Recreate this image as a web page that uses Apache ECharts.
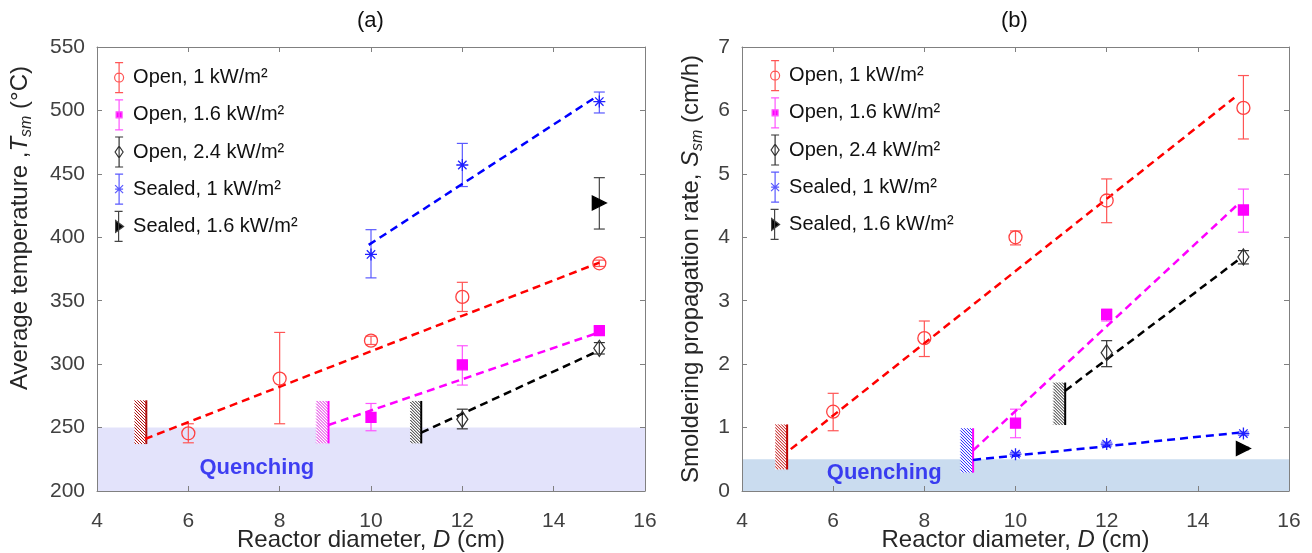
<!DOCTYPE html>
<html>
<head>
<meta charset="utf-8">
<script src="https://cdn.jsdelivr.net/npm/echarts@6/dist/echarts.min.js"></script>
<style>
  html, body { margin: 0; padding: 0; background: #fff; }
  #chart { width: 1312px; height: 553px; }
</style>
</head>
<body>
<div id="chart"></div>
<script>
const FONT = 'Arial, "Liberation Sans", sans-serif';

const names = ['Open, 1 kW/m²', 'Open, 1.6 kW/m²', 'Open, 2.4 kW/m²', 'Sealed, 1 kW/m²', 'Sealed, 1.6 kW/m²'];

// reactor diameters (cm) of each group
const dOpen1 = [6, 8, 10, 12, 15];
const dOpen16 = [10, 12, 15];
const dOpen24 = [12, 15];
const dSealed1 = [10, 12, 15];
const dSealed16 = [15];

// (a) average temperature, value / error low / error high
const aOpen1 = [245.5, 288.6, 318.5, 353, 379.5];
const aOpen1Lo = [238, 253, 315.5, 341.5, 377];
const aOpen1Hi = [253, 325, 322, 364.5, 382];
const aOpen16 = [258, 299.5, 326.5];
const aOpen16Lo = [247.5, 283.5, 323.5];
const aOpen16Hi = [269, 314.5, 329.5];
const aOpen24 = [256.5, 312.5];
const aOpen24Lo = [249, 308];
const aOpen24Hi = [264.5, 317];
const aSealed1 = [386.5, 457, 507];
const aSealed1Lo = [368, 440, 498];
const aSealed1Hi = [406, 474, 514.5];
const aSealed16 = [427];
const aSealed16Lo = [406.5];
const aSealed16Hi = [447];

// (a) dashed trend lines
const aFitOpen1 = [[5.05, 241], [15, 380]];
const aFitOpen16 = [[9.07, 252], [14.95, 324.5]];
const aFitOpen24 = [[11.1, 246], [14.95, 310]];
const aFitSealed1 = [[9.95, 394], [14.9, 510]];

// (a) hatched limits [x0, x1, y0, y1] and quenching zone
const aHatch = [[4.82, 5.08, 237, 271.5], [8.8, 9.07, 237.5, 271], [10.86, 11.1, 237.5, 271]];
const aBand = [[4, 16, 200, 250]];
const aQuench = [[7.5, 218]];

// (b) smoldering propagation rate
const bOpen1 = [1.25, 2.41, 4.0, 4.58, 6.04];
const bOpen1Lo = [0.95, 2.12, 3.88, 4.23, 5.55];
const bOpen1Hi = [1.54, 2.68, 4.1, 4.92, 6.55];
const bOpen16 = [1.07, 2.78, 4.43];
const bOpen16Lo = [0.84, 2.68, 4.08];
const bOpen16Hi = [1.29, 2.87, 4.76];
const bOpen24 = [2.18, 3.69];
const bOpen24Lo = [1.96, 3.58];
const bOpen24Hi = [2.37, 3.79];
const bSealed1 = [0.58, 0.74, 0.905];
const bSealed1Lo = [0.55, 0.71, 0.88];
const bSealed1Hi = [0.61, 0.77, 0.93];
const bSealed16 = [0.67];
const bSealed16Lo = [0.65];
const bSealed16Hi = [0.69];

const bFitOpen1 = [[5.07, 0.66], [14.8, 6.2]];
const bFitOpen16 = [[9.07, 0.64], [14.85, 4.5]];
const bFitOpen24 = [[11.09, 1.58], [14.9, 3.65]];
const bFitSealed1 = [[9.07, 0.49], [14.9, 0.92]];

const bHatch = [[4.73, 4.99, 0.34, 1.05], [8.79, 9.07, 0.29, 0.99], [10.83, 11.09, 1.04, 1.71]];
const bBand = [[4, 16, 0, 0.5]];
const bQuench = [[7.12, 0.29]];

// marker looks
const ASTER = 'path://M5,0L5,10M0,5L10,5M1.5,1.5L8.5,8.5M8.5,1.5L1.5,8.5';
const looks = [
  { bar: '#ff5555', symbol: 'circle', size: 13, fill: 'rgba(0,0,0,0)', stroke: '#ff4040' },
  { bar: '#ff55ff', symbol: 'rect', size: 10, fill: '#ff00ff', stroke: '#ff00ff' },
  { bar: '#333333', symbol: 'diamond', size: [11, 16], fill: 'rgba(0,0,0,0)', stroke: '#333333' },
  { bar: '#5a5aff', symbol: ASTER, size: 12, fill: '#2020ff', stroke: '#2020ff' },
  { bar: '#444444', symbol: 'triangle', size: [14, 14], rotate: -90, fill: '#000', stroke: '#000' }
];
const BAR = 'M5,0L5,30M1,0L9,0M1,30L9,30';
const legendIcons = [
  'path://' + BAR + 'M9.5,15A4.5,4.5,0,1,1,0.5,15A4.5,4.5,0,1,1,9.5,15Z',
  'path://' + BAR + 'M2,12L8,12L8,18L2,18Z',
  'path://' + BAR + 'M5,9L9,15L5,21L1,15Z',
  'path://' + BAR + 'M1,11L9,19M9,11L1,19M1,15L9,15M4.5,14.5L5.5,14.5L5.5,15.5L4.5,15.5Z',
  'path://' + BAR + 'M2,9L10,15L2,21Z'
];

function errorBars(gi, xs, lo, hi, color) {
  return {
    type: 'custom', xAxisIndex: gi * 2, yAxisIndex: gi * 2, z: 3, silent: true,
    data: xs.map((x, k) => [x, lo[k], hi[k]]),
    encode: { x: 0, y: [1, 2] },
    renderItem: (params, api) => {
      const a = api.coord([api.value(0), api.value(1)]);
      const b = api.coord([api.value(0), api.value(2)]);
      const hw = 5.5;
      const st = { stroke: color, lineWidth: 1.2 };
      return {
        type: 'group', children: [
          { type: 'line', shape: { x1: a[0], y1: a[1], x2: b[0], y2: b[1] }, style: st },
          { type: 'line', shape: { x1: a[0] - hw, y1: a[1], x2: a[0] + hw, y2: a[1] }, style: st },
          { type: 'line', shape: { x1: b[0] - hw, y1: b[1], x2: b[0] + hw, y2: b[1] }, style: st }
        ]
      };
    }
  };
}

function markers(gi, i, xs, ys) {
  const lk = looks[i];
  return {
    type: 'scatter', name: names[i], xAxisIndex: gi * 2, yAxisIndex: gi * 2, z: 4, silent: true,
    symbol: lk.symbol, symbolSize: lk.size, symbolRotate: lk.rotate || 0,
    itemStyle: { color: lk.fill, borderColor: lk.stroke, borderWidth: 1.3, opacity: 1 },
    data: xs.map((x, k) => [x, ys[k]])
  };
}

function fitLine(gi, pts, color) {
  return {
    type: 'line', xAxisIndex: gi * 2, yAxisIndex: gi * 2, z: 3, silent: true,
    symbol: 'none', data: pts,
    lineStyle: { color: color, width: 2.5, type: [8, 5] }
  };
}

function hatches(gi, rows, colors, edges) {
  return {
    type: 'custom', xAxisIndex: gi * 2, yAxisIndex: gi * 2, z: 2, silent: true,
    data: rows, encode: { x: [0, 1], y: [2, 3] },
    renderItem: (params, api) => {
      const p0 = api.coord([api.value(0), api.value(3)]);
      const p1 = api.coord([api.value(1), api.value(2)]);
      const x0 = p0[0], y0 = p0[1], w = p1[0] - p0[0], h = p1[1] - p0[1];
      const c = colors[params.dataIndex];
      const kids = [{ type: 'rect', shape: { x: x0, y: y0, width: w, height: h }, style: { fill: '#fff' } }];
      for (let k = -w; k < h; k += 3) {
        let sx = x0, sy = y0 + k, ex = x0 + w, ey = y0 + k + w;
        if (sy < y0) { sx += y0 - sy; sy = y0; }
        if (ey > y0 + h) { ex -= ey - (y0 + h); ey = y0 + h; }
        kids.push({ type: 'line', shape: { x1: sx, y1: sy, x2: ex, y2: ey }, style: { stroke: c, lineWidth: 1 } });
      }
      kids.push({ type: 'line', shape: { x1: x0 + w, y1: y0, x2: x0 + w, y2: y0 + h }, style: { stroke: edges[params.dataIndex], lineWidth: 2 } });
      return { type: 'group', children: kids };
    }
  };
}

function band(gi, rows, color) {
  return {
    type: 'custom', xAxisIndex: gi * 2, yAxisIndex: gi * 2, z: -1, silent: true,
    data: rows, encode: { x: [0, 1], y: [2, 3] },
    renderItem: (params, api) => {
      const p0 = api.coord([api.value(0), api.value(3)]);
      const p1 = api.coord([api.value(1), api.value(2)]);
      return { type: 'rect', shape: { x: p0[0], y: p0[1], width: p1[0] - p0[0], height: p1[1] - p0[1] }, style: { fill: color } };
    }
  };
}

function quenchLabel(gi, pt) {
  return {
    type: 'scatter', xAxisIndex: gi * 2, yAxisIndex: gi * 2, z: 5, silent: true,
    symbolSize: 1, itemStyle: { color: 'rgba(0,0,0,0)' }, data: pt,
    label: { show: true, position: 'inside', formatter: 'Quenching', fontFamily: FONT, fontWeight: 'bold', fontSize: 22, color: '#1414f0' }
  };
}

const axisGray = '#808080';
const labelStyle = { fontFamily: FONT, fontSize: 21, color: '#404040' };

function xAxes(gi) {
  const base = {
    gridIndex: gi, type: 'value', min: 4, max: 16, interval: 2,
    axisLine: { show: true, onZero: false, lineStyle: { color: axisGray, width: 1 } },
    axisTick: { show: true, inside: true, length: 5, lineStyle: { color: axisGray } },
    splitLine: { show: false }
  };
  return [
    Object.assign({}, base, {
      position: 'bottom',
      axisLabel: Object.assign({ margin: 20 }, labelStyle),
      name: 'Reactor diameter, {i|D} (cm)', nameLocation: 'middle', nameGap: 37, nameMoveOverlap: false,
      nameTextStyle: { fontFamily: FONT, fontSize: 24, color: '#262626', rich: { i: { fontFamily: FONT, fontSize: 24, fontStyle: 'italic', color: '#262626' } } }
    }),
    Object.assign({}, base, { position: 'top', axisLabel: { show: false } })
  ];
}

function yAxes(gi, min, max, interval, name, gap, pad) {
  const base = {
    gridIndex: gi, type: 'value', min: min, max: max, interval: interval,
    axisLine: { show: true, onZero: false, lineStyle: { color: axisGray, width: 1 } },
    axisTick: { show: true, inside: true, length: 5, lineStyle: { color: axisGray } },
    splitLine: { show: false }
  };
  return [
    Object.assign({}, base, {
      position: 'left',
      axisLabel: Object.assign({ margin: 12 }, labelStyle),
      name: name, nameLocation: 'middle', nameGap: gap, nameMoveOverlap: false,
      nameTextStyle: {
        fontFamily: FONT, fontSize: 24, color: '#262626', lineHeight: 28, padding: pad,
        rich: {
          i: { fontFamily: FONT, fontSize: 24, fontStyle: 'italic', color: '#262626', lineHeight: 28 },
          s: { fontFamily: FONT, fontSize: 16, fontStyle: 'italic', color: '#262626', verticalAlign: 'bottom', lineHeight: 30 }
        }
      }
    }),
    Object.assign({}, base, { position: 'right', axisLabel: { show: false } })
  ];
}

function legend(left, top) {
  return {
    orient: 'vertical', left: left, top: top, itemWidth: 18, itemHeight: 30, itemGap: 6,
    selectedMode: false, padding: 0, symbolKeepAspect: true,
    textStyle: { fontFamily: FONT, fontSize: 20, color: '#111' },
    data: names.map((n, i) => ({
      name: n, icon: legendIcons[i],
      itemStyle: { color: looks[i].fill, borderColor: i === 4 ? '#444' : looks[i].bar, borderWidth: 1.2 }
    }))
  };
}

const chart = echarts.init(document.getElementById('chart'), null, { renderer: 'canvas' });

const series = [
  band(0, aBand, '#e3e3fb'),
  hatches(0, aHatch, ['#b01010', '#e020e0', '#222'], ['#b01010', '#ff00ff', '#000']),
  fitLine(0, aFitOpen1, '#ff0000'),
  fitLine(0, aFitOpen16, '#ff00ff'),
  fitLine(0, aFitOpen24, '#000000'),
  fitLine(0, aFitSealed1, '#0000ff'),
  errorBars(0, dOpen1, aOpen1Lo, aOpen1Hi, looks[0].bar),
  errorBars(0, dOpen16, aOpen16Lo, aOpen16Hi, looks[1].bar),
  errorBars(0, dOpen24, aOpen24Lo, aOpen24Hi, looks[2].bar),
  errorBars(0, dSealed1, aSealed1Lo, aSealed1Hi, looks[3].bar),
  errorBars(0, dSealed16, aSealed16Lo, aSealed16Hi, looks[4].bar),
  markers(0, 0, dOpen1, aOpen1),
  markers(0, 1, dOpen16, aOpen16),
  markers(0, 2, dOpen24, aOpen24),
  markers(0, 3, dSealed1, aSealed1),
  markers(0, 4, dSealed16, aSealed16),
  quenchLabel(0, aQuench),

  band(1, bBand, '#cadcef'),
  hatches(1, bHatch, ['#c00000', '#2020ff', '#222'], ['#c00000', '#ff00ff', '#000']),
  fitLine(1, bFitOpen1, '#ff0000'),
  fitLine(1, bFitOpen16, '#ff00ff'),
  fitLine(1, bFitOpen24, '#000000'),
  fitLine(1, bFitSealed1, '#0000ff'),
  errorBars(1, dOpen1, bOpen1Lo, bOpen1Hi, looks[0].bar),
  errorBars(1, dOpen16, bOpen16Lo, bOpen16Hi, looks[1].bar),
  errorBars(1, dOpen24, bOpen24Lo, bOpen24Hi, looks[2].bar),
  errorBars(1, dSealed1, bSealed1Lo, bSealed1Hi, looks[3].bar),
  errorBars(1, dSealed16, bSealed16Lo, bSealed16Hi, looks[4].bar),
  markers(1, 0, dOpen1, bOpen1),
  markers(1, 1, dOpen16, bOpen16),
  markers(1, 2, dOpen24, bOpen24),
  markers(1, 3, dSealed1, bSealed1),
  markers(1, 4, dSealed16, bSealed16),
  quenchLabel(1, bQuench)
];

chart.setOption({
  animation: false,
  backgroundColor: '#fff',
  title: [
    { text: '(a)', left: 357, top: 10, padding: 0, textStyle: { fontFamily: FONT, fontSize: 22, fontWeight: 'normal', color: '#111' } },
    { text: '(b)', left: 1001, top: 10, padding: 0, textStyle: { fontFamily: FONT, fontSize: 22, fontWeight: 'normal', color: '#111' } }
  ],
  grid: [
    { left: 97, top: 47, width: 548, height: 444, outerBoundsMode: 'none' },
    { left: 742, top: 47, width: 547, height: 444, outerBoundsMode: 'none' }
  ],
  legend: [legend(114, 62), legend(770, 60)],
  xAxis: xAxes(0).concat(xAxes(1)),
  yAxis: yAxes(0, 200, 550, 50, 'Average temperature ,{i|T}{s|sm} (°C)', 62, [0, 0, 0, 82])
    .concat(yAxes(1, 0, 7, 1, 'Smoldering propagation rate, {i|S}{s|sm} (cm/h)', 36, 0)),
  series: series
});
</script>
</body>
</html>
